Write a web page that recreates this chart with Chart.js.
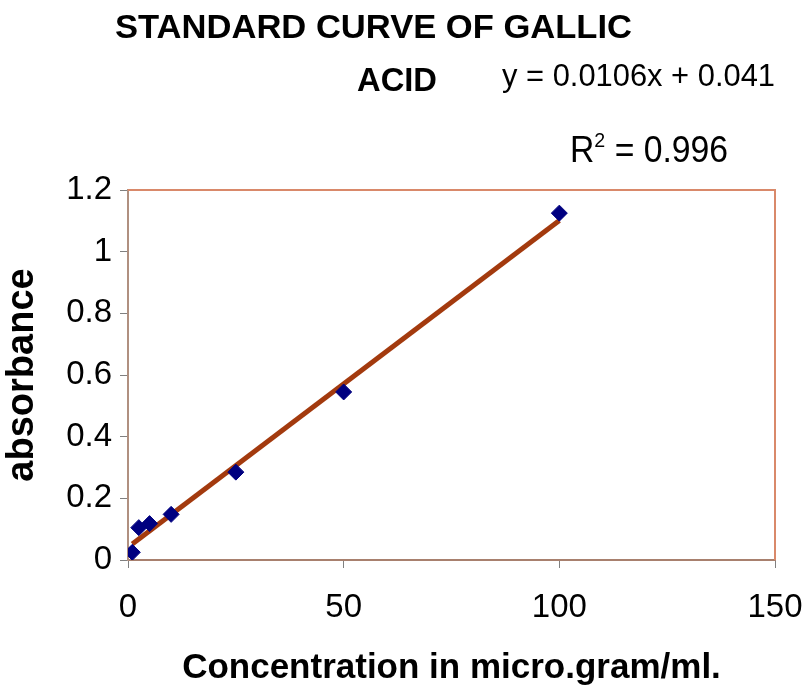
<!DOCTYPE html>
<html>
<head>
<meta charset="utf-8">
<script src="https://cdn.jsdelivr.net/npm/chart.js@4"></script>
<style>
  html, body { margin: 0; padding: 0; background: #fff; }
  #wrap { width: 809px; height: 698px; }
</style>
</head>
<body>
<div id="wrap"><canvas id="chart" width="809" height="698"></canvas></div>
<script>
// concentration (micro.gram/ml) and absorbance
const conc = [1, 2.5, 5, 10, 25, 50, 100];
const absorbance = [0.025, 0.105, 0.118, 0.148, 0.285, 0.545, 1.125];

// trendline end points, y = 0.0106x + 0.041
const trendX = [1, 100];
const trendY = [0.052, 1.101];

const xTicks = [0, 50, 100, 150];
const yTicks = [0, 0.2, 0.4, 0.6, 0.8, 1, 1.2];

const titleLines = ['STANDARD CURVE OF GALLIC', 'ACID'];
const equationText = 'y = 0.0106x + 0.041';
const r2Value = '0.996';

const FONT = '"Liberation Sans", Arial, sans-serif';

// draws text squeezed horizontally to a target width (the source art is narrow)
function squeezed(ctx, parts, x, y, width) {
  let natural = 0;
  parts.forEach(p => { ctx.font = p.font; natural += ctx.measureText(p.text).width; });
  const k = width / natural;
  ctx.save();
  ctx.translate(x, y);
  ctx.scale(k, 1);
  let cx = 0;
  parts.forEach(p => {
    ctx.font = p.font;
    ctx.fillText(p.text, cx, p.dy || 0);
    cx += ctx.measureText(p.text).width;
  });
  ctx.restore();
}

// top/right plot border + header text
const decor = {
  id: 'decor',
  beforeDatasetsDraw(chart) {
    const { ctx, chartArea: a } = chart;
    ctx.save();
    ctx.strokeStyle = '#D9896A';
    ctx.lineWidth = 2;
    ctx.beginPath();
    ctx.moveTo(a.left, a.top);
    ctx.lineTo(a.right, a.top);
    ctx.lineTo(a.right, a.bottom);
    ctx.stroke();
    ctx.restore();
  },
  afterDraw(chart) {
    const ctx = chart.ctx;
    ctx.save();
    ctx.fillStyle = '#000';
    ctx.textBaseline = 'alphabetic';
    ctx.textAlign = 'left';
    const tf = 'bold 34px ' + FONT;
    squeezed(ctx, [{ text: titleLines[0], font: tf }], 115, 38, 517);
    squeezed(ctx, [{ text: titleLines[1], font: tf }], 357, 91, 80);
    squeezed(ctx, [{ text: equationText, font: '31px ' + FONT }], 502, 86, 273);
    squeezed(ctx, [
      { text: 'R', font: '36px ' + FONT },
      { text: '2', font: '21px ' + FONT, dy: -15 },
      { text: ' = ' + r2Value, font: '36px ' + FONT }
    ], 570, 162, 158);
    ctx.restore();
  }
};

const ctx = document.getElementById('chart').getContext('2d');
new Chart(ctx, {
  type: 'scatter',
  data: {
    datasets: [
      {
        label: 'absorbance',
        data: conc.map((x, i) => ({ x, y: absorbance[i] })),
        pointStyle: 'rectRot',
        pointRadius: 8,
        pointBackgroundColor: '#000080',
        pointBorderColor: '#000080',
        pointBorderWidth: 1,
        showLine: false
      },
      {
        type: 'line',
        label: 'Linear',
        data: trendX.map((x, i) => ({ x, y: trendY[i] })),
        borderColor: '#A33A0E',
        borderWidth: 5,
        pointRadius: 0,
        fill: false
      }
    ]
  },
  options: {
    responsive: false,
    animation: false,
    layout: { padding: { top: 190, right: 34, left: 0, bottom: 0 } },
    plugins: {
      legend: { display: false },
      tooltip: { enabled: false }
    },
    scales: {
      x: {
        type: 'linear',
        min: 0,
        max: 150,
        afterBuildTicks: s => { s.ticks = xTicks.map(v => ({ value: v })); },
        afterFit: s => { s.height = 138; s.paddingLeft = 0; s.paddingRight = 0; },
        grid: { drawOnChartArea: false, drawTicks: true, tickLength: 8, tickColor: '#808080' },
        border: { color: '#A8806E', width: 2 },
        ticks: {
          color: '#000',
          padding: 20,
          font: { family: FONT, size: 33 },
          callback: v => String(v)
        },
        title: {
          display: true,
          text: 'Concentration in micro.gram/ml.',
          color: '#000',
          font: { family: FONT, size: 35, weight: 'bold' },
          padding: { top: 0, bottom: 9 }
        }
      },
      y: {
        type: 'linear',
        min: 0,
        max: 1.2,
        afterBuildTicks: s => { s.ticks = yTicks.map(v => ({ value: v })); },
        afterFit: s => { s.width = 128; s.paddingTop = 0; s.paddingBottom = 0; },
        grid: { drawOnChartArea: false, drawTicks: true, tickLength: 8, tickColor: '#808080' },
        border: { color: '#B09080', width: 2 },
        ticks: {
          color: '#000',
          padding: 8,
          font: { family: FONT, size: 33 },
          callback: v => String(+v.toFixed(1))
        },
        title: {
          display: true,
          text: 'absorbance',
          color: '#000',
          font: { family: FONT, size: 38, weight: 'bold' },
          padding: { top: 0, bottom: 0 }
        }
      }
    }
  },
  plugins: [decor]
});
</script>
</body>
</html>
